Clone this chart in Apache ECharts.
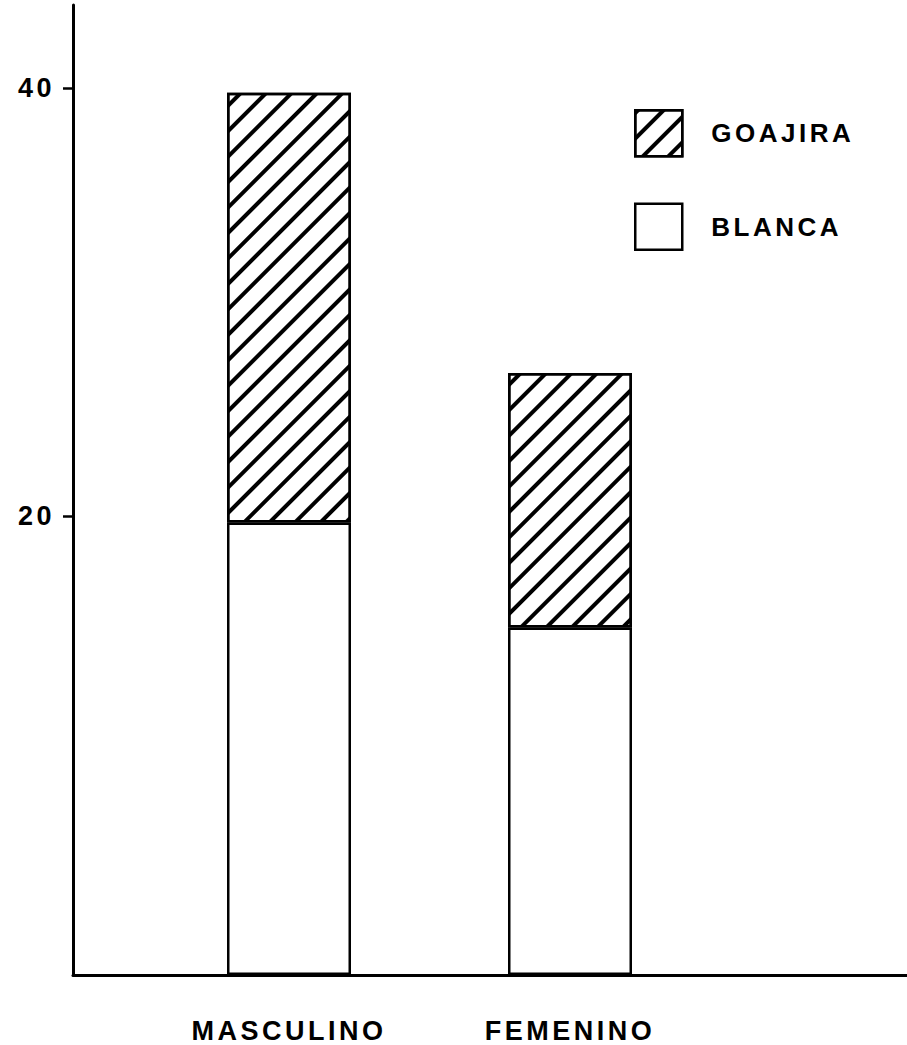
<!DOCTYPE html>
<html><head><meta charset="utf-8">
<script src="https://cdn.jsdelivr.net/npm/echarts@6/dist/echarts.min.js"></script>
<style>
html,body{margin:0;padding:0;background:#fff;}
#main{width:907px;height:1045px;}
#main text{letter-spacing:3.5px;}
</style></head>
<body><div id="main"></div>
<script>
const categories = ['MASCULINO', 'FEMENINO'];
const blanca = [19.7, 14.8];
const goajira = [20.1, 11.9];
const seriesNames = ['GOAJIRA', 'BLANCA'];
const yTicks = [20, 40];

const chart = echarts.init(document.getElementById('main'), null, {renderer: 'svg'});
const font = 'Liberation Sans';
const Y_MIN = -1.45, Y_MAX = 43.9;
const hatch = {symbol: 'rect', symbolSize: 1, dashArrayX: [1, 0], dashArrayY: [3.5, 13.5], rotation: -Math.PI / 4, color: '#000'};
const labelFont = {color: '#000', fontFamily: font, fontWeight: 'bold', fontSize: 27};
const option = {
  animation: false,
  backgroundColor: '#fff',
  grid: [
    {left: 148.5, right: 196.5, top: 5, bottom: 70},
    {left: 73, right: 0, top: 5, bottom: 70}
  ],
  legend: {
    orient: 'vertical', left: 634, top: 109, padding: 0,
    itemWidth: 47, itemHeight: 46, itemGap: 45, icon: 'rect',
    data: seriesNames,
    itemStyle: {borderColor: '#000', borderWidth: 2.5},
    textStyle: {color: '#000', fontFamily: font, fontWeight: 'bold', fontSize: 26, padding: [0, 0, 0, 24]}
  },
  xAxis: [
    {
      gridIndex: 0, type: 'category', data: categories, boundaryGap: true,
      axisLine: {show: false}, axisTick: {show: false}, splitLine: {show: false},
      axisLabel: Object.assign({margin: 42, interval: 0}, labelFont)
    },
    {
      gridIndex: 1, type: 'value', min: 0, max: 1,
      axisLine: {show: true, onZero: false, lineStyle: {color: '#000', width: 3}},
      axisTick: {show: false}, splitLine: {show: false}, axisLabel: {show: false}
    }
  ],
  yAxis: [
    {
      gridIndex: 0, type: 'value', min: Y_MIN, max: Y_MAX, startValue: Y_MIN, show: false
    },
    {
      gridIndex: 1, type: 'value', min: Y_MIN, max: Y_MAX,
      axisLine: {show: true, onZero: false, lineStyle: {color: '#000', width: 3}},
      axisTick: {show: true, customValues: yTicks, length: 10, lineStyle: {color: '#000', width: 2.5}},
      axisLabel: Object.assign({customValues: yTicks, margin: 18}, labelFont),
      splitLine: {show: false}
    }
  ],
  series: [
    {name: 'BLANCA', type: 'bar', stack: 't', xAxisIndex: 0, yAxisIndex: 0, data: blanca, barWidth: 124,
      itemStyle: {color: '#fff', borderColor: '#000', borderWidth: 2.5}},
    {name: 'GOAJIRA', type: 'bar', stack: 't', xAxisIndex: 0, yAxisIndex: 0, data: goajira, barWidth: 124,
      itemStyle: {color: '#fff', borderColor: '#000', borderWidth: 2.5, decal: hatch}}
  ]
};
chart.setOption(option);
</script>
</body></html>
